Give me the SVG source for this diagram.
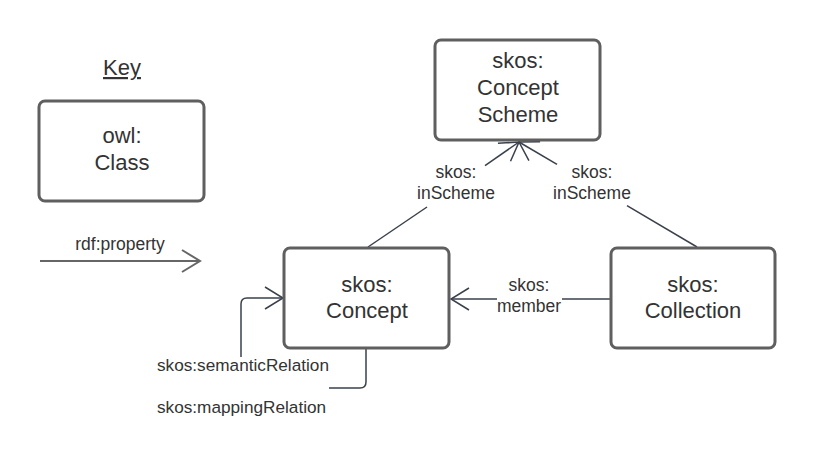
<svg xmlns="http://www.w3.org/2000/svg" width="815" height="461" viewBox="0 0 815 461">
<style>
.box{fill:#fff;stroke:#5f5f5f;stroke-width:3}
.bt{font-family:"Liberation Sans",Arial,sans-serif;font-size:22px;fill:#333;text-anchor:middle}
.lt{font-family:"Liberation Sans",Arial,sans-serif;font-size:17.5px;fill:#333;text-anchor:middle}
.st{font-family:"Liberation Sans",Arial,sans-serif;font-size:17.2px;fill:#333}
.c{fill:none;stroke:#3a414b;stroke-width:1.5}
</style>
<defs>
<marker id="arr" markerUnits="userSpaceOnUse" markerWidth="24" markerHeight="26" refX="19" refY="11" orient="auto" overflow="visible">
<path d="M1,0 L19,11 L1,22" fill="none" stroke="#3a414b" stroke-width="1.5"/>
</marker>
<marker id="arrk" markerUnits="userSpaceOnUse" markerWidth="24" markerHeight="26" refX="19" refY="11" orient="auto" overflow="visible">
<path d="M1,0 L19,11 L1,22" fill="none" stroke="#666" stroke-width="2"/>
</marker>
</defs>
<rect width="815" height="461" fill="#fff"/>
<g id="key">
<text x="122" y="75" class="bt" text-decoration="underline">Key</text>
</g>
<g id="key-class">
<rect x="39" y="101" width="165" height="100" rx="6" class="box"/>
<text x="122" y="143" class="bt">owl:</text>
<text x="122" y="170" class="bt">Class</text>
</g>
<g id="key-property">
<text x="120" y="250" class="lt">rdf:property</text>
<line x1="40" y1="261" x2="200" y2="261" stroke="#666" stroke-width="2" marker-end="url(#arrk)"/>
</g>
<g id="connectors">
<line x1="368" y1="247" x2="427" y2="207" class="c"/>
<line x1="485" y1="165.7" x2="519" y2="142" class="c" marker-end="url(#arr)"/>
<line x1="697" y1="247" x2="627" y2="205.7" class="c"/>
<line x1="557" y1="164.4" x2="519" y2="142" class="c" marker-end="url(#arr)"/>
<line x1="611" y1="299" x2="562" y2="299" class="c" stroke-width="2.5"/>
<line x1="497" y1="299" x2="451" y2="299" class="c" stroke-width="2.5" marker-end="url(#arr)"/>
<path d="M366,349 V382 Q366,388 360,388 H329" class="c"/>
<path d="M241,357 V304 Q241,298 247,298 H283" class="c" marker-end="url(#arr)"/>
<text x="456" y="178" class="lt">skos:</text>
<text x="456" y="199" class="lt">inScheme</text>
<text x="592" y="178" class="lt">skos:</text>
<text x="592" y="199" class="lt">inScheme</text>
<text x="529" y="291" class="lt">skos:</text>
<text x="529" y="312" class="lt">member</text>
<text x="157" y="371" class="st">skos:semanticRelation</text>
<text x="157" y="413" class="st">skos:mappingRelation</text>
</g>
<g id="concept-scheme">
<rect x="435" y="40" width="165" height="100" rx="6" class="box"/>
<text x="518" y="68" class="bt">skos:</text>
<text x="518" y="95" class="bt">Concept</text>
<text x="518" y="122" class="bt">Scheme</text>
</g>
<g id="concept">
<rect x="284" y="248" width="165" height="100" rx="6" class="box"/>
<text x="367" y="292" class="bt">skos:</text>
<text x="367" y="318" class="bt">Concept</text>
</g>
<g id="collection">
<rect x="611" y="248" width="164" height="100" rx="6" class="box"/>
<text x="693" y="292" class="bt">skos:</text>
<text x="693" y="318" class="bt">Collection</text>
</g>
</svg>
